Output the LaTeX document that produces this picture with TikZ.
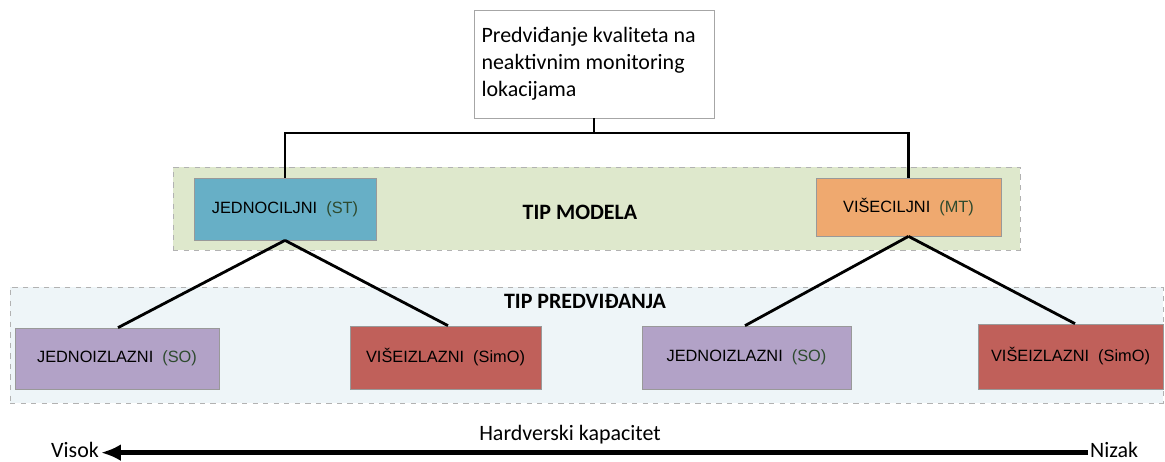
\documentclass[tikz,border=0pt]{standalone}
\usepackage{fontspec}
\setmainfont{Carlito}
\newfontfamily\boxfont{Liberation Sans}
\usepackage{tikz}
\usetikzlibrary{arrows.meta, positioning, calc}
\definecolor{bandgreen}{HTML}{DEE8CC}
\definecolor{bandblue}{HTML}{EEF5F8}
\definecolor{stblue}{HTML}{67AFC6}
\definecolor{mtorange}{HTML}{EFA96F}
\definecolor{sopurple}{HTML}{B2A2C7}
\definecolor{simored}{HTML}{C0605A}
\definecolor{abbr}{HTML}{2E4A2E}
\tikzset{
    rootbox/.style={rectangle, draw=black!35, fill=white, minimum width=4.8cm, minimum height=2.16cm, align=left, font=\fontsize{12.5}{15.3}\selectfont, inner sep=0pt},
    band/.style={rectangle, draw=black!30, dashed, inner sep=0pt},
    modelbox/.style={rectangle, draw=black!40, minimum height=1.2cm, text centered, font=\boxfont\fontsize{9.3}{11}\selectfont},
    outbox/.style={rectangle, draw=black!40, minimum height=1.24cm, text centered, font=\boxfont\fontsize{9.3}{11}\selectfont},
    bandtitle/.style={font=\bfseries\fontsize{12.5}{14}\selectfont},
    scalelabel/.style={font=\fontsize{12.5}{14}\selectfont, inner sep=1pt},
    link/.style={line width=1.6pt},
    scalearrow/.style={-{Latex[length=4mm, width=3.4mm]}, line width=2.8pt},
}

\begin{document}
\begin{tikzpicture}[x=0.02cm, y=-0.02cm]
        \useasboundingbox (0,0) rectangle (1165,461);

        % Bands
        \node[band, fill=bandgreen, minimum width=16.94cm, minimum height=1.66cm] (modelband) at (596.5,208.5) {};
        \node[band, fill=bandblue, minimum width=23.06cm, minimum height=2.32cm] (predband) at (586.5,345) {};
        \node[bandtitle] (modeltitle) at (580,212) {TIP MODELA};
        \node[bandtitle] (predtitle) at (585,301) {TIP PREDVIĐANJA};

        % Nodes
        \node[rootbox] (root) at (594,64) {\parbox{4.5cm}{Predviđanje kvaliteta na\\neaktivnim monitoring\\lokacijama}};
        \node[modelbox, fill=stblue, minimum width=3.64cm, minimum height=1.24cm] (st) at (285,209) {JEDNOCILJNI \ {\color{abbr}(ST)}};
        \node[modelbox, fill=mtorange, minimum width=3.7cm, minimum height=1.16cm] (mt) at (908.5,207) {VIŠECILJNI \ {\color{abbr}(MT)}};
        \node[outbox, fill=sopurple, minimum width=4.08cm, minimum height=1.22cm] (so1) at (117,358.5) {JEDNOIZLAZNI \ {\color{abbr}(SO)}};
        \node[outbox, fill=simored, minimum width=3.82cm, minimum height=1.26cm] (simo1) at (445.5,357.5) {VIŠEIZLAZNI \ (SimO)};
        \node[outbox, fill=sopurple, minimum width=4.18cm, minimum height=1.26cm] (so2) at (746.5,357.5) {JEDNOIZLAZNI \ {\color{abbr}(SO)}};
        \node[outbox, fill=simored, minimum width=3.7cm, minimum height=1.3cm] (simo2) at (1070.5,356.5) {VIŠEIZLAZNI \ (SimO)};
        \coordinate (split) at (594,133);

        % Scale
        \node[scalelabel] (capacity) at (570,435) {Hardverski kapacitet};
        \node[scalelabel, anchor=east] (high) at (101,450) {Visok};
        \node[scalelabel, anchor=west] (low) at (1088,450) {Nizak};

        % Links
        \draw[link] (root.south) -- (split) -| (st.north);
        \draw[link] (split) -| (mt.north);
        \draw[link] (st.south) -- ($(so1.north)+(1,0)$);
        \draw[link] (st.south) -- ($(simo1.north)+(2.5,0)$);
        \draw[link] (mt.south) -- ($(so2.north)+(-1.5,0)$);
        \draw[link] (mt.south) -- ($(simo2.north)+(4.5,0)$);
        \draw[scalearrow] ([yshift=-1.5pt]low.west) -- ([yshift=-1.5pt]high.east);
    \end{tikzpicture}
\end{document}
